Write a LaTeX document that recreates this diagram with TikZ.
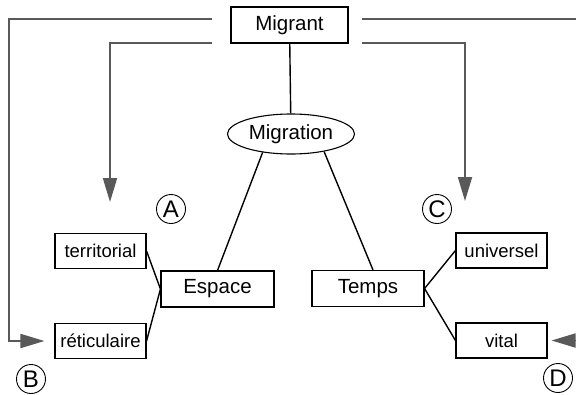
\documentclass[tikz,border=0pt]{standalone}
\usepackage{fontspec}
\setmainfont{Liberation Sans}
\usepackage{tikz}
\usetikzlibrary{arrows.meta,calc,shapes.geometric}

\begin{document}
\begin{tikzpicture}[x=1pt,y=-1pt,
  boite/.style={draw,line width=1.1pt,inner sep=0pt,minimum width=#1},
  boite/.default=91,
  petit/.style={boite,minimum height=35,font=\fontsize{18.5}{18.5}\selectfont},
  grand/.style={boite=#1,minimum height=36,font=\fontsize{20.5}{20.5}\selectfont},
  marque/.style={circle,draw,line width=0.9pt,minimum size=29,inner sep=0pt,font=\fontsize{24}{24}\selectfont},
  lien/.style={line width=1.4pt},
  retour/.style={draw=black!65,line width=1.8pt,-{Triangle[length=24pt,width=14pt]}}]
\useasboundingbox (0,0) rectangle (576,394);
\clip (0,0) rectangle (576,394);

\node[grand=117] (mig) at (289.5,25) {Migrant};
\node[ellipse,draw,line width=1.1pt,inner sep=0pt,minimum width=127,minimum height=40,
  font=\fontsize{20.5}{20.5}\selectfont] (migr) at (291,134) {Migration};
\node[grand=113] (esp) at (217.5,289) {Espace};
\node[grand=112] (tmp) at (368,288.5) {Temps};

\node[petit] (ter) at (100.5,251) {territorial};
\node[petit] (ret) at (100.5,341) {réticulaire};
\node[petit] (uni) at (501.5,250.5) {universel};
\node[petit] (vit) at (501.5,340.5) {vital};

\node[marque] (A) at (171,209) {A};
\node[marque] (B) at (31,379) {B};
\node[marque] (C) at (437,209) {C};
\node[marque] (D) at (558,378) {D};

\draw[lien] (mig) -- (migr);
\draw[lien] (esp.north) -- (migr.213);
\draw[lien] ([xshift=5pt]tmp.north) -- (migr.-28);
\draw[lien] (esp.west) -- (ter.east);
\draw[lien] (esp.west) -- (ret.east);
\draw[lien] (tmp.east) -- (uni.west);
\draw[lien] (tmp.east) -- (vit.west);

% retours du migrant
\coordinate (gh) at (212,19);
\coordinate (gb) at (212,43);
\coordinate (dh) at (362,19);
\coordinate (db) at (362,43);
\coordinate (pa) at (110,202);
\coordinate (pc) at (465,201);
\draw[retour] (gh) -- (9,19) |- ([xshift=-10pt]ret.west);
\draw[retour] (gb) -| (pa);
\draw[retour] (db) -| (pc);
\draw[retour] (dh) -- (600,19) |- ([xshift=4pt]vit.east);

\end{tikzpicture}
\end{document}
